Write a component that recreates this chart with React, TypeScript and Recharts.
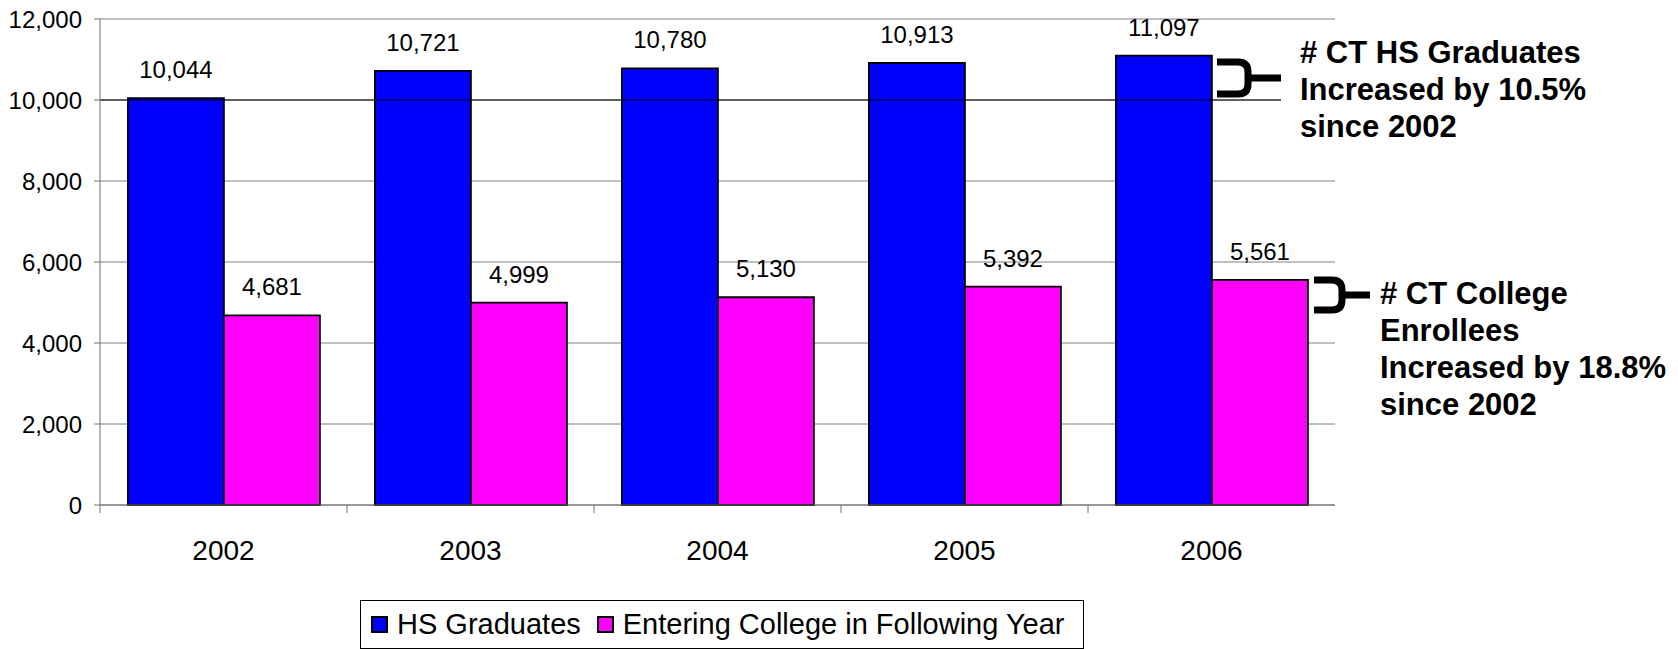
import React from 'react';
import {
  BarChart,
  Bar,
  XAxis,
  YAxis,
  CartesianGrid,
  LabelList,
  ReferenceLine,
} from 'recharts';

const years = ['2002', '2003', '2004', '2005', '2006'];
const hsGraduates = [10044, 10721, 10780, 10913, 11097];
const enteringCollege = [4681, 4999, 5130, 5392, 5561];
const yTicks = [0, 2000, 4000, 6000, 8000, 10000, 12000];

const SERIES = [
  { key: 'hs', name: 'HS Graduates', color: '#0000FF' },
  { key: 'college', name: 'Entering College in Following Year', color: '#FF00FF' },
];

const data = years.map((year, i) => ({
  year,
  hs: hsGraduates[i],
  college: enteringCollege[i],
}));

const FONT = '"Liberation Sans", Arial, sans-serif';
const W = 1678;
const H = 649;
const M = { top: 19, right: 343, left: 0, bottom: 84 };
const Y_AXIS_W = 100;
const X_AXIS_H = 60;
const BAND = (W - M.left - M.right - Y_AXIS_W) / years.length;

const fmt = (v: number) => v.toLocaleString('en-US');

// category label at the centre, small tick mark at each left boundary
function CategoryTick(props: any) {
  const { x, y, payload } = props;
  const axisY = y - 8;
  return (
    <g>
      <line x1={x - BAND / 2} x2={x - BAND / 2} y1={axisY} y2={axisY + 8} stroke="#707070" />
      <text x={x} y={axisY + 55} textAnchor="middle" fontSize={28} fontFamily={FONT} fill="#000">
        {payload.value}
      </text>
    </g>
  );
}

function Brace({ left, curve, stub, top, bottom }: { left: number; curve: number; stub: number; top: number; bottom: number }) {
  const mid = (top + bottom) / 2;
  const r = 10;
  const d = `M ${left} ${top} L ${curve - r} ${top} Q ${curve} ${top} ${curve} ${top + r} L ${curve} ${bottom - r} Q ${curve} ${bottom} ${curve - r} ${bottom} L ${left} ${bottom} M ${curve} ${mid} L ${stub} ${mid}`;
  return <path d={d} fill="none" stroke="#000" strokeWidth={7} strokeLinejoin="round" />;
}

const noteStyle: React.CSSProperties = {
  position: 'absolute',
  fontFamily: FONT,
  fontWeight: 700,
  fontSize: 31,
  lineHeight: '37px',
  color: '#000',
  whiteSpace: 'nowrap',
  boxSizing: 'border-box',
};

export default function App() {
  return (
    <div style={{ position: 'absolute', left: 0, top: 0, width: W, height: H, background: '#fff', overflow: 'hidden' }}>
      <BarChart width={W} height={H} data={data} margin={M} barCategoryGap="11.3%" barGap={0}>
        <CartesianGrid horizontal vertical={false} stroke="#808080" />
        <XAxis
          dataKey="year"
          height={X_AXIS_H}
          tick={<CategoryTick />}
          tickLine={false}
          tickSize={8}
          tickMargin={0}
          axisLine={{ stroke: '#707070' }}
          interval={0}
        />
        <YAxis
          width={Y_AXIS_W}
          domain={[0, 12000]}
          ticks={yTicks}
          tickFormatter={fmt}
          tick={{ fontSize: 24, fontFamily: FONT, fill: '#000' }}
          tickLine={{ stroke: '#707070' }}
          tickSize={6}
          tickMargin={12}
          axisLine={{ stroke: '#707070' }}
          interval={0}
        />
        <YAxis yAxisId="border" orientation="right" width={0} domain={[0, 12000]} tick={false} tickLine={false} axisLine={{ stroke: '#A0A0A0', strokeWidth: 2 }} />
        <ReferenceLine y={10000} stroke="#000" />
        {SERIES.map((s) => (
          <Bar key={s.key} dataKey={s.key} name={s.name} fill={s.color} stroke="#000" strokeWidth={1.8} isAnimationActive={false}>
            <LabelList dataKey={s.key} position="top" offset={20} formatter={(v: any) => fmt(Number(v))} style={{ fontSize: 24, fontFamily: FONT, fill: '#000' }} />
          </Bar>
        ))}
      </BarChart>

      <div style={{ ...noteStyle, left: 1281, top: 25, width: 340, height: 130, paddingLeft: 19, paddingTop: 9, background: '#fff' }}>
        # CT HS Graduates<br />Increased by 10.5%<br />since 2002
      </div>
      <div style={{ ...noteStyle, left: 1380, top: 275 }}>
        # CT College<br />Enrollees<br />Increased by 18.8%<br />since 2002
      </div>

      <svg width={W} height={H} style={{ position: 'absolute', left: 0, top: 0, pointerEvents: 'none' }}>
        <Brace left={1217} curve={1248} stub={1281} top={62} bottom={94} />
        <Brace left={1314} curve={1342} stub={1370} top={280} bottom={310} />
      </svg>

      <div
        style={{
          position: 'absolute',
          left: 360,
          top: 600,
          width: 724,
          height: 49,
          boxSizing: 'border-box',
          border: '1.5px solid #000',
          display: 'flex',
          alignItems: 'center',
          paddingLeft: 10,
          fontFamily: FONT,
          fontSize: 29,
          color: '#000',
        }}
      >
        {SERIES.map((s) => (
          <span key={s.key} style={{ display: 'flex', alignItems: 'center', marginRight: 16 }}>
            <span style={{ display: 'inline-block', width: 13, height: 13, background: s.color, border: '2px solid #000', marginRight: 9 }} />
            {s.name}
          </span>
        ))}
      </div>
    </div>
  );
}
